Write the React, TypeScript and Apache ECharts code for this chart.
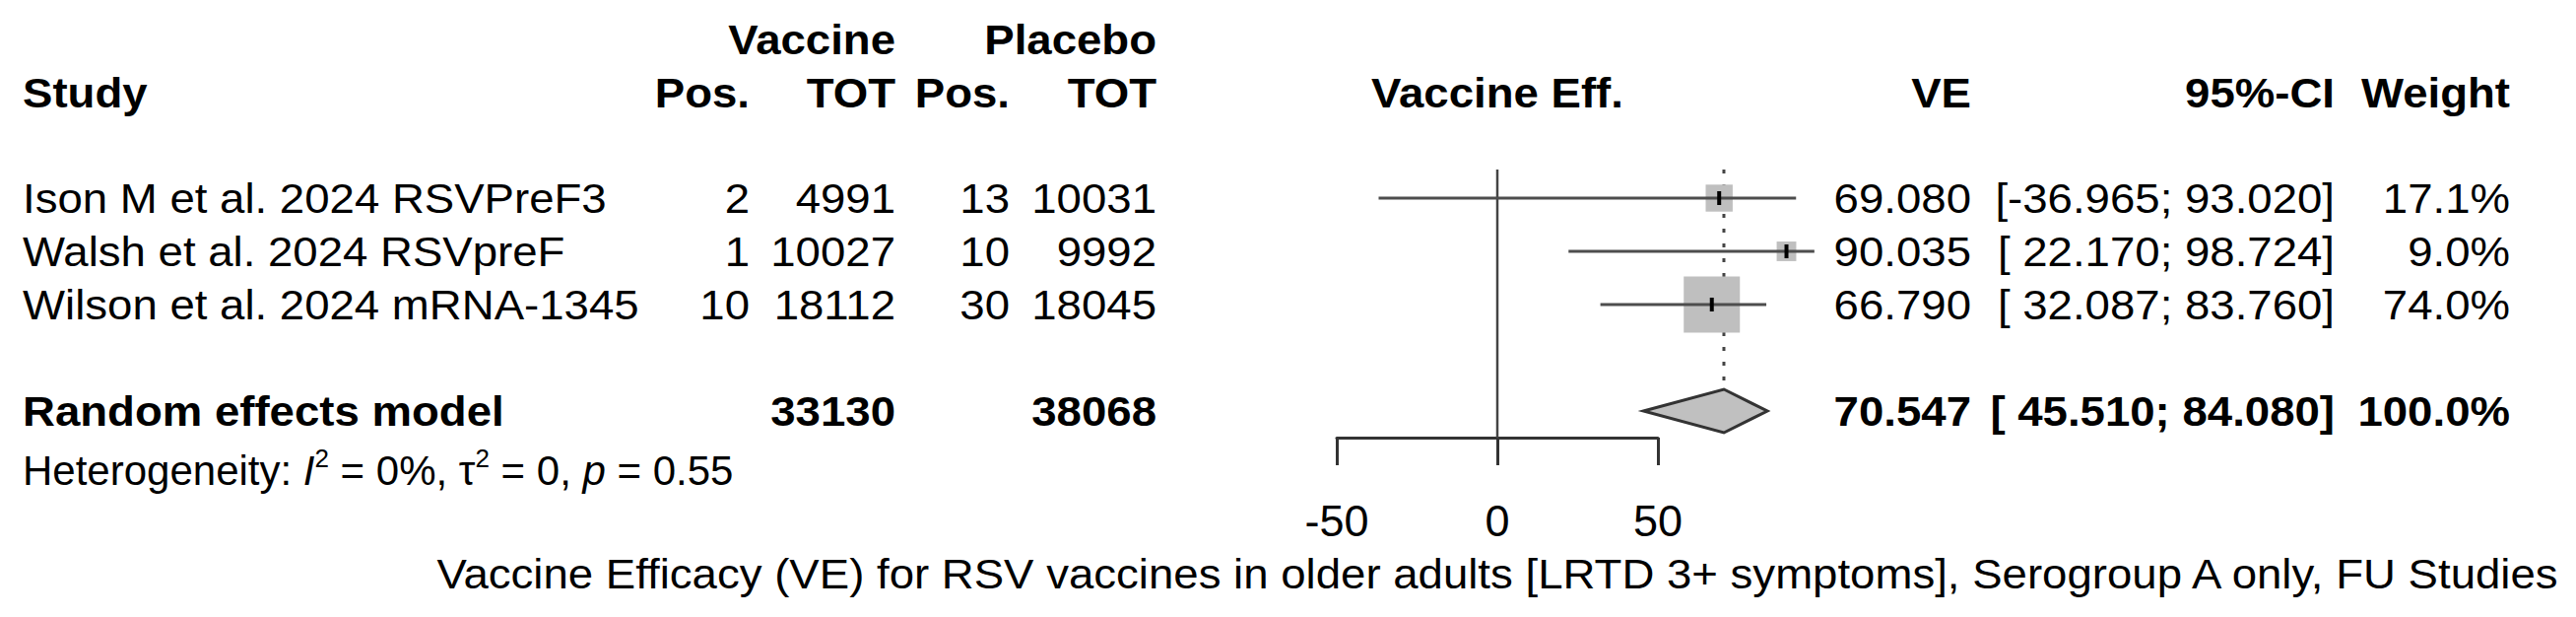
import React, { useEffect, useRef } from "react";
import * as echarts from "echarts";

// ---------- data ----------
const studies = [
  "Ison M et al. 2024 RSVPreF3",
  "Walsh et al. 2024 RSVpreF",
  "Wilson et al. 2024 mRNA-1345",
];
const vacPos = [2, 1, 10];
const vacTot = [4991, 10027, 18112];
const plaPos = [13, 10, 30];
const plaTot = [10031, 9992, 18045];
const veEst = [69.08, 90.035, 66.79];
const ciLow = [-36.965, 22.17, 32.087];
const ciHigh = [93.02, 98.724, 83.76];
const weights = [17.1, 9.0, 74.0];

const pooledLabel = "Random effects model";
const pooledVacTot = 33130;
const pooledPlaTot = 38068;
const pooledVE = 70.547;
const pooledLow = 45.51;
const pooledHigh = 84.08;
const pooledWeight = 100.0;

const hetI2 = "0%";
const hetTau2 = "0";
const hetP = "0.55";

const xTicks = [-50, 0, 50];
const title =
  "Vaccine Efficacy (VE) for RSV vaccines in older adults [LRTD 3+ symptoms], Serogroup A only, FU Studies";

// ---------- layout / style ----------
const FONT = "'Liberation Sans', Arial, Helvetica, sans-serif";
const FS = 43;
const SX = 1.06;
const HET_FS = 42;
const TXT = "#000000";
const COL = {
  study: 23,
  vacPos: 761,
  vacTot: 909,
  plaPos: 1025,
  plaTot: 1174,
  effCenter: 1520,
  ve: 2001,
  ci: 2370,
  weight: 2548,
};
const MAX_SIDE = 57;
const DIAMOND_HALF = 22;

const fmtNum = (v: number) => (v < 0 ? v.toFixed(3) : " " + v.toFixed(3));
const fmtCI = (l: number, h: number) => "[" + fmtNum(l) + "; " + h.toFixed(3) + "]";

const txt = (
  text: string,
  x: number,
  y: number,
  align: string,
  bold = false
) => ({
  type: "text",
  x,
  y,
  scaleX: SX,
  style: {
    text,
    fill: TXT,
    fontSize: FS,
    fontFamily: FONT,
    fontWeight: bold ? "bold" : "normal",
    align,
    verticalAlign: "middle",
  },
});

export default function App() {
  const ref = useRef<HTMLDivElement>(null);

  useEffect(() => {
    if (!ref.current) return;
    const chart = echarts.init(ref.current, undefined, { renderer: "svg" });
    const maxW = Math.max(...weights);
    const nStudies = studies.length;
    const pooledRow = nStudies + 2;

    const studyData = studies.map((_, i) => [veEst[i], i + 1, ciLow[i], ciHigh[i], weights[i]]);

    const option: any = {
      animation: false,
      backgroundColor: "#ffffff",
      grid: {
        left: 1357,
        width: 326,
        top: 174,
        height: 270,
        containLabel: false,
        outerBoundsMode: "none",
      },
      xAxis: {
        type: "value",
        min: xTicks[0],
        max: xTicks[xTicks.length - 1],
        interval: xTicks[1] - xTicks[0],
        splitLine: { show: false },
        axisLine: { show: true, onZero: false, lineStyle: { color: "#333333", width: 3 } },
        axisTick: { show: true, inside: false, length: 28, lineStyle: { color: "#333333", width: 3 } },
        axisLabel: {
          show: true,
          margin: 62,
          fontSize: 45,
          fontFamily: FONT,
          color: TXT,
        },
      },
      yAxis: {
        type: "value",
        min: 0.5,
        max: 5.5,
        inverse: true,
        show: false,
      },
      graphic: [
        txt("Vaccine", COL.vacTot, 40, "right", true),
        txt("Placebo", COL.plaTot, 40, "right", true),
        txt("Study", COL.study, 94, "left", true),
        txt("Pos.", COL.vacPos, 94, "right", true),
        txt("TOT", COL.vacTot, 94, "right", true),
        txt("Pos.", COL.plaPos, 94, "right", true),
        txt("TOT", COL.plaTot, 94, "right", true),
        txt("Vaccine Eff.", COL.effCenter, 94, "center", true),
        txt("VE", COL.ve, 94, "right", true),
        txt("95%-CI", COL.ci, 94, "right", true),
        txt("Weight", COL.weight, 94, "right", true),
        {
          type: "text",
          x: COL.study,
          y: 477,
          style: {
            text: "Heterogeneity: {i|I}{s|2} = " + hetI2 + ", τ{s|2} = " + hetTau2 + ", {i|p} = " + hetP,
            fill: TXT,
            fontSize: HET_FS,
            fontFamily: FONT,
            align: "left",
            verticalAlign: "middle",
            rich: {
              i: { fontSize: HET_FS, fontFamily: FONT, fontStyle: "italic", fill: TXT, lineHeight: 50 },
              s: { fontSize: 26, fontFamily: FONT, fill: TXT, verticalAlign: "top", lineHeight: 8 },
            },
          },
        },
        txt(title, COL.effCenter, 582, "center"),
      ],
      series: [
        {
          // zero (no effect) reference line
          type: "custom",
          z: 1,
          data: [[0, 0.5, 5.5]],
          renderItem: (params: any, api: any) => {
            const a = api.coord([api.value(0), api.value(1)]);
            const b = api.coord([api.value(0), api.value(2)]);
            return {
              type: "line",
              shape: { x1: a[0], y1: a[1] - 2, x2: b[0], y2: b[1] },
              style: { stroke: "#444444", lineWidth: 2.5 },
            };
          },
        },
        {
          // pooled estimate dotted line + diamond
          type: "custom",
          z: 3,
          data: [[pooledVE, pooledRow, pooledLow, pooledHigh]],
          renderItem: (params: any, api: any) => {
            const row = api.value(1);
            const c = api.coord([api.value(0), row]);
            const lo = api.coord([api.value(2), row]);
            const hi = api.coord([api.value(3), row]);
            const top = api.coord([api.value(0), 0.5]);
            return {
              type: "group",
              children: [
                {
                  type: "line",
                  shape: { x1: c[0], y1: top[1] - 2, x2: c[0], y2: c[1] - DIAMOND_HALF - 4 },
                  style: { stroke: "#444444", lineWidth: 3, lineDash: [4, 11] },
                },
                {
                  type: "polygon",
                  shape: {
                    points: [
                      [lo[0], c[1]],
                      [c[0], c[1] - DIAMOND_HALF],
                      [hi[0], c[1]],
                      [c[0], c[1] + DIAMOND_HALF],
                    ],
                  },
                  style: { fill: "#c0c0c0", stroke: "#333333", lineWidth: 3, lineJoin: "miter" },
                },
              ],
            };
          },
        },
        {
          // study estimates: weighted squares, CI lines, estimate ticks
          type: "custom",
          z: 4,
          data: studyData,
          renderItem: (params: any, api: any) => {
            const row = api.value(1);
            const c = api.coord([api.value(0), row]);
            const lo = api.coord([api.value(2), row]);
            const hi = api.coord([api.value(3), row]);
            const side = MAX_SIDE * Math.sqrt(api.value(4) / maxW);
            return {
              type: "group",
              children: [
                {
                  type: "rect",
                  shape: { x: c[0] - side / 2, y: c[1] - side / 2, width: side, height: side },
                  style: { fill: "#bfbfbf" },
                },
                {
                  type: "line",
                  shape: { x1: lo[0], y1: c[1], x2: hi[0], y2: c[1] },
                  style: { stroke: "#4d4d4d", lineWidth: 3 },
                },
                {
                  type: "line",
                  shape: { x1: c[0], y1: c[1] - 7, x2: c[0], y2: c[1] + 7 },
                  style: { stroke: "#000000", lineWidth: 4 },
                },
              ],
            };
          },
        },
        {
          // table text for studies
          type: "custom",
          z: 5,
          data: studies.map((_, i) => [0, i + 1]),
          renderItem: (params: any, api: any) => {
            const i = params.dataIndex;
            const y = api.coord([0, api.value(1)])[1];
            return {
              type: "group",
              children: [
                txt(studies[i], COL.study, y, "left"),
                txt(String(vacPos[i]), COL.vacPos, y, "right"),
                txt(String(vacTot[i]), COL.vacTot, y, "right"),
                txt(String(plaPos[i]), COL.plaPos, y, "right"),
                txt(String(plaTot[i]), COL.plaTot, y, "right"),
                txt(veEst[i].toFixed(3), COL.ve, y, "right"),
                txt(fmtCI(ciLow[i], ciHigh[i]), COL.ci, y, "right"),
                txt(weights[i].toFixed(1) + "%", COL.weight, y, "right"),
              ],
            };
          },
        },
        {
          // table text for pooled row
          type: "custom",
          z: 5,
          data: [[0, pooledRow]],
          renderItem: (params: any, api: any) => {
            const y = api.coord([0, api.value(1)])[1];
            return {
              type: "group",
              children: [
                txt(pooledLabel, COL.study, y, "left", true),
                txt(String(pooledVacTot), COL.vacTot, y, "right", true),
                txt(String(pooledPlaTot), COL.plaTot, y, "right", true),
                txt(pooledVE.toFixed(3), COL.ve, y, "right", true),
                txt(fmtCI(pooledLow, pooledHigh), COL.ci, y, "right", true),
                txt(pooledWeight.toFixed(1) + "%", COL.weight, y, "right", true),
              ],
            };
          },
        },
      ],
    };
    chart.setOption(option);
    return () => chart.dispose();
  }, []);

  return (
    <div
      ref={ref}
      style={{ position: "fixed", left: 0, top: 0, width: 2615, height: 626, background: "#fff" }}
    />
  );
}
